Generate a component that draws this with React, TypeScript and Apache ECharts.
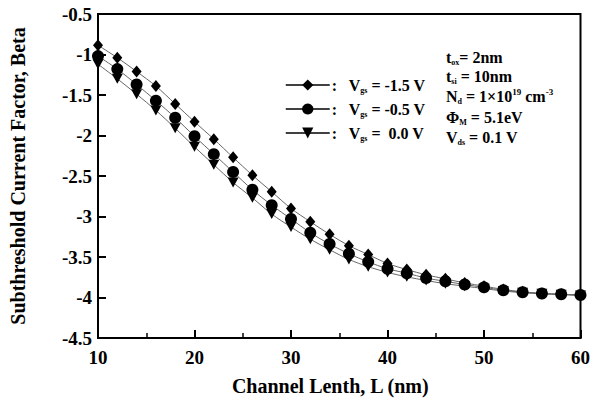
import React, { useEffect, useRef } from "react";
import * as echarts from "echarts";

const channelLength = [10, 12, 14, 16, 18, 20, 22, 24, 26, 28, 30, 32, 34, 36, 38, 40, 42, 44, 46, 48, 50, 52, 54, 56, 58, 60];
const betaVgsM15 = [-0.886, -1.04, -1.21, -1.39, -1.61, -1.83, -2.045, -2.27, -2.49, -2.695, -2.9, -3.065, -3.22, -3.36, -3.47, -3.58, -3.655, -3.72, -3.77, -3.82, -3.86, -3.9, -3.93, -3.95, -3.96, -3.97];
const betaVgsM05 = [-1.02, -1.18, -1.37, -1.57, -1.78, -2.01, -2.23, -2.45, -2.67, -2.86, -3.03, -3.2, -3.34, -3.46, -3.56, -3.645, -3.7, -3.76, -3.8, -3.84, -3.875, -3.91, -3.935, -3.95, -3.96, -3.97];
const betaVgs00 = [-1.12, -1.3, -1.49, -1.69, -1.91, -2.14, -2.36, -2.58, -2.77, -2.97, -3.13, -3.28, -3.41, -3.53, -3.62, -3.69, -3.745, -3.79, -3.83, -3.86, -3.89, -3.92, -3.94, -3.955, -3.965, -3.975];
const vgsLabels = ["-1.5", "-0.5", " 0.0"];
const xTitle = "Channel Lenth, L (nm)";
const yTitle = "Subthreshold Current Factor, Beta";
const paramLines = [
  "{v|t}{s|ox}{v|= 2nm}",
  "{v|t}{s|si}{v| = 10nm}",
  "{v|N}{s|d}{v| = 1×10}{p|19}{v| cm}{p|-3}",
  "{v|Φ}{s|M}{v| = 5.1eV}",
  "{v|V}{s|ds}{v| = 0.1 V}",
];

const FONT = "'Liberation Serif', 'Times New Roman', serif";
const downTri = "path://M0,0 L10,0 L5,10 Z";

export default function App() {
  const ref = useRef<HTMLDivElement>(null);
  useEffect(() => {
    if (!ref.current) return;
    const chart = echarts.init(ref.current, undefined, { renderer: "svg" });
    const seriesData = [betaVgsM15, betaVgsM05, betaVgs00];
    const symbols = ["diamond", "circle", downTri];
    const sizes: any[] = [[10, 12], 12, [11, 10]];
    const names = vgsLabels.map((v) => `Vgs = ${v} V`);
    const txt = { fontFamily: FONT, fontWeight: "bold", color: "#000" };
    const paramYs = [57, 76.5, 96.5, 117, 137];
    chart.setOption({
      animation: false,
      backgroundColor: "#fff",
      grid: { left: 98, right: 10, top: 14, bottom: 58, show: true, borderColor: "#000", borderWidth: 2 },
      xAxis: {
        type: "value", min: 10, max: 60, interval: 10,
        name: xTitle, nameLocation: "middle", nameGap: 38,
        nameTextStyle: { ...txt, fontSize: 20, padding: [0, 18, 0, 0] },
        axisLine: { lineStyle: { color: "#000", width: 2 } },
        axisTick: { inside: true, length: 8, lineStyle: { color: "#000", width: 2 } },
        minorTick: { show: true, splitNumber: 2, length: 5, lineStyle: { color: "#000", width: 1.5 } },
        axisLabel: { ...txt, fontSize: 19, margin: 10 },
        splitLine: { show: false },
      },
      yAxis: {
        type: "value", min: -4.5, max: -0.5, interval: 0.5,
        name: yTitle, nameLocation: "middle", nameGap: 70, nameRotate: 90,
        nameTextStyle: { ...txt, fontSize: 20 },
        axisLine: { lineStyle: { color: "#000", width: 2 } },
        axisTick: { inside: true, length: 8, lineStyle: { color: "#000", width: 2 } },
        axisLabel: { ...txt, fontSize: 19, margin: 6 },
        splitLine: { show: false },
      },
      legend: {
        orient: "vertical", left: 280, top: 72, itemGap: 7, itemWidth: 44, itemHeight: 14,
        data: names,
        lineStyle: { color: "#000", width: 1.5 },
        itemStyle: { color: "#000" },
        formatter: (n: string) => {
          const idx = names.indexOf(n);
          return `{c|:}{v|V}{s|gs}{v| = ${vgsLabels[idx]} V}`;
        },
        textStyle: {
          ...txt,
          rich: {
            c: { ...txt, fontSize: 16, width: 17, lineHeight: 18, padding: [0, 0, 0, -3] },
            v: { ...txt, fontSize: 16, lineHeight: 18 },
            s: { ...txt, fontSize: 8, lineHeight: 10, verticalAlign: "bottom" },
          },
        },
      },
      graphic: paramLines.map((line, i) => ({
        type: "text", x: 446, y: paramYs[i],
        style: {
          text: line,
          verticalAlign: "middle",
          rich: {
            v: { ...txt, fontSize: 16, lineHeight: 18 },
            s: { ...txt, fontSize: 8, lineHeight: 10, verticalAlign: "bottom" },
            p: { ...txt, fontSize: 9, lineHeight: 14, verticalAlign: "top" },
          },
        },
      })),
      series: seriesData.map((d, i) => ({
        name: names[i],
        type: "line",
        smooth: 0.3,
        data: channelLength.map((x, j) => [x, d[j]]),
        symbol: symbols[i],
        symbolSize: sizes[i],
        itemStyle: { color: "#000" },
        lineStyle: { color: "#666", width: 1 },
      })),
    });
    return () => chart.dispose();
  }, []);
  return <div ref={ref} style={{ position: "fixed", left: 0, top: 0, width: 593, height: 401 }} />;
}
